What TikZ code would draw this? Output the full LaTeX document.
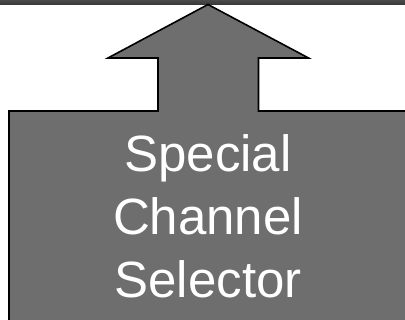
\documentclass[tikz,border=0pt]{standalone}
\usepackage{fontspec}
\setmainfont{Liberation Sans}
\definecolor{shapegray}{HTML}{6E6E6E}
\definecolor{bardark}{HTML}{363636}
\definecolor{barlight}{HTML}{4A4A4A}
\begin{document}
\begin{tikzpicture}[x=1pt,y=1pt,
  shapestyle/.style={fill=shapegray,draw=black,line width=1.6pt,line join=miter},
  labelstyle/.style={text=white,align=center,inner sep=0pt,font=\fontsize{51}{63}\selectfont}]
\useasboundingbox (0,0) rectangle (405,320);
\clip (0,0) rectangle (405,320);
% top bar
\shade[top color=barlight,bottom color=bardark] (0,315) rectangle (405,320);
% arrow + box shape
\draw[shapestyle] (208,315.5) -- (308.5,262) -- (258.5,262) -- (258.5,209) -- (410,209)
  -- (410,-5) -- (9,-5) -- (9,209) -- (158,209) -- (158,262) -- (108,262) -- cycle;
\node[labelstyle,anchor=base] (lbl) at (208,22) {Special\\Channel\\Selector};
\end{tikzpicture}
\end{document}
